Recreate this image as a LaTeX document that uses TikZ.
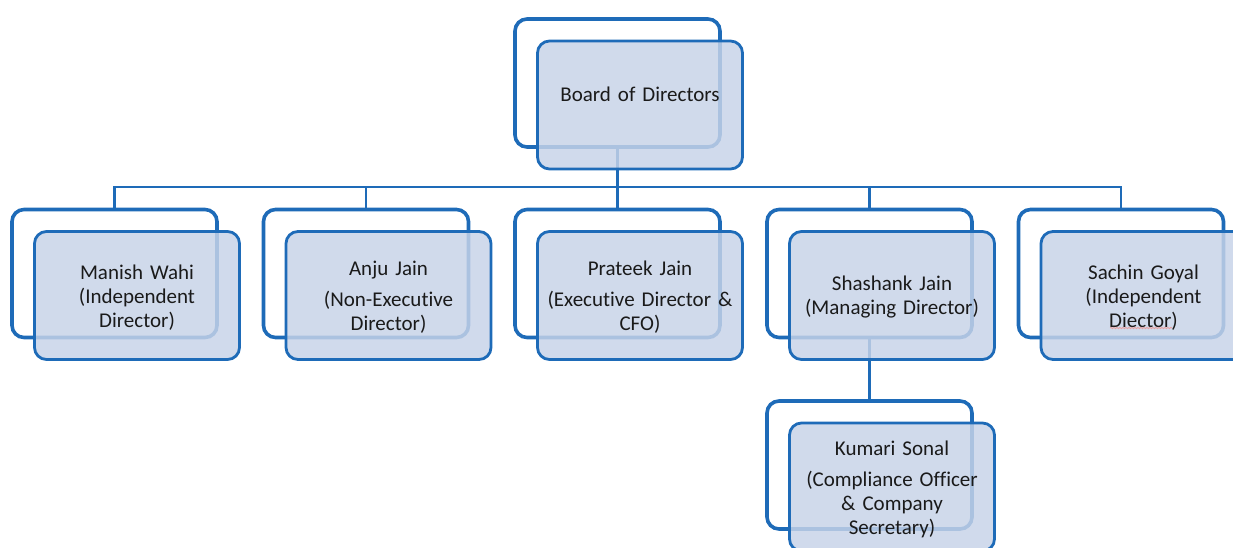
\documentclass[tikz,border=0pt]{standalone}
\usepackage{fontspec}
\setmainfont{Carlito}[Ligatures=NoCommon]
\usetikzlibrary{decorations.pathmorphing}
\definecolor{boxline}{HTML}{1E6BB8}
\definecolor{boxfill}{HTML}{C7D3E8}
\definecolor{txt}{HTML}{1A1A1A}
\definecolor{spell}{HTML}{E8A0A0}
\tikzset{
  backframe/.style={draw=boxline, line width=3.6pt, fill=white, rounded corners=12pt,
    minimum width=205pt, minimum height=128pt, inner sep=0pt},
  frontbox/.style={draw=boxline, line width=2.8pt, fill=boxfill, fill opacity=0.84,
    rounded corners=12pt, minimum width=205pt, minimum height=128pt, inner sep=0pt},
  boxtext/.style={align=center, text=txt, font=\fontsize{21}{24}\selectfont, text width=195pt, inner sep=0pt},
  conn/.style={draw=boxline, line width=2.2pt},
  squiggle/.style={draw=spell, line width=0.8pt, decorate, decoration={snake, amplitude=0.7pt, segment length=3pt}},
}
\begin{document}
\begin{tikzpicture}[x=1pt,y=1pt]
\useasboundingbox (0,0) rectangle (1233,-547);
% back frames
\node[backframe] (b0) at (617.5,-83) {};
\node[backframe] (b1) at (114.5,-273.5) {};
\node[backframe] (b2) at (366,-273.5) {};
\node[backframe] (b3) at (617.5,-273.5) {};
\node[backframe] (b4) at (869.5,-273.5) {};
\node[backframe] (b5) at (1121,-273.5) {};
\node[backframe] (b6) at (869.5,-465) {};
% connectors
\coordinate (bus) at (0,-187);
\foreach \k in {1,...,5}{
  \draw[conn] (b0.south) -- (b0.south |- bus) -| (b\k.north);
}
\draw[conn] (b4.south) -- (b6.north);
% front boxes
\node[frontbox] (f0) at (640,-105) {};
\node[frontbox] (f1) at (137,-295.5) {};
\node[frontbox] (f2) at (388.5,-295.5) {};
\node[frontbox] (f3) at (640,-295.5) {};
\node[frontbox] (f4) at (892,-295.5) {};
\node[frontbox] (f5) at (1143.5,-295.5) {};
\node[frontbox] (f6) at (892,-487) {};
% texts
\node[boxtext] (t0) at ([yshift=11pt]f0.center) {Board of Directors};
\node[boxtext] (t1) at ([yshift=-2pt]f1.center) {Manish Wahi\\(Independent\\Director)};
\node[boxtext] (t2) at ([yshift=-2pt]f2.center) {Anju Jain\\[7pt](Non-Executive\\Director)};
\node[boxtext] (t3) at ([yshift=-2pt]f3.center) {Prateek Jain\\[7pt](Executive Director \&\\CFO)};
\node[boxtext] (t4) at ([yshift=-2pt]f4.center) {Shashank Jain\\(Managing Director)};
\node[boxtext] (t5) at ([yshift=-2pt]f5.center) {Sachin Goyal\\(Independent\\Diector)};
\node[boxtext] (t6) at ([yshift=-2pt]f6.center) {Kumari Sonal\\[7pt](Compliance Officer\\\& Company\\Secretary)};
% spell-check underline
\coordinate (sq1) at (1110,-328);
\coordinate (sq2) at (1172,-328);
\draw[squiggle] (sq1) -- (sq2);
\end{tikzpicture}
\end{document}
